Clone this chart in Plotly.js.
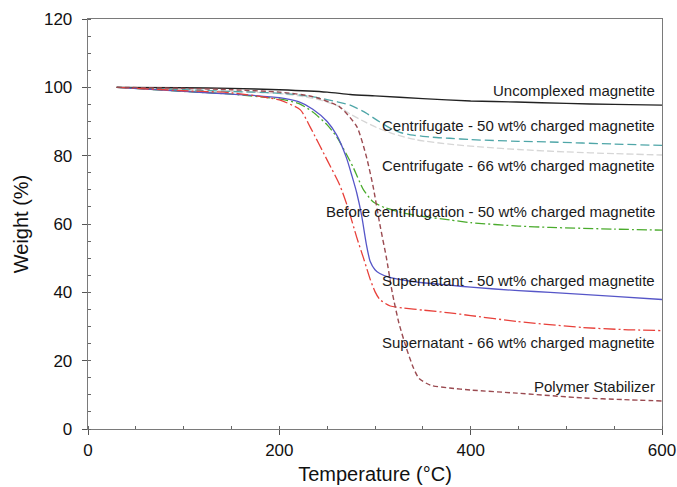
<!DOCTYPE html>
<html>
<head>
<meta charset="utf-8">
<script src="https://cdn.plot.ly/plotly-3.0.1.min.js"></script>
<style>html,body{margin:0;padding:0;background:#fff;}#chart{width:677px;height:487px;}</style>
</head>
<body>
<div id="chart"></div>
<script>
// Temperature (°C) and weight (%) for each sample
const xUncomplexed = [30, 100, 150, 200, 250, 274, 300, 350, 400, 448, 500, 550, 600];
const yUncomplexed = [100, 99.9, 99.7, 99.3, 98.6, 97.9, 97.5, 96.7, 96.0, 95.7, 95.3, 95.0, 94.8];

const xCentri50 = [30, 100, 150, 200, 220, 240, 260, 274, 290, 302, 315, 326, 340, 360, 378, 400, 450, 483, 550, 600];
const yCentri50 = [100, 99.3, 98.8, 98.3, 97.8, 97.0, 95.8, 94.8, 92.6, 90.4, 88.2, 86.8, 86.0, 85.4, 85.1, 84.7, 84.2, 84.0, 83.4, 83.0];

const xCentri66 = [30, 100, 150, 200, 220, 240, 260, 274, 290, 302, 320, 344, 380, 413, 450, 500, 550, 600];
const yCentri66 = [100, 99.3, 98.8, 98.2, 97.5, 96.5, 94.7, 92.2, 89.8, 88.2, 86.3, 84.6, 83.3, 82.5, 81.8, 81.1, 80.6, 80.2];

const xBefore50 = [30, 100, 150, 200, 220, 235, 250, 260, 270, 277, 288, 298, 310, 330, 350, 378, 400, 450, 483, 550, 600];
const yBefore50 = [100, 98.8, 98.0, 96.6, 95.3, 92.8, 89.0, 85.5, 80.5, 76.7, 70.0, 66.5, 64.8, 63.2, 62.2, 61.2, 60.4, 59.4, 59.0, 58.5, 58.2];

const xSuper50 = [30, 100, 150, 200, 220, 235, 250, 260, 270, 276, 281, 286, 291, 295, 300, 305, 316, 330, 350, 378, 400, 450, 483, 550, 600];
const ySuper50 = [100, 98.8, 98.0, 97.0, 95.8, 93.6, 90.0, 86.0, 79.5, 74.0, 69.0, 62.5, 54.0, 49.0, 46.6, 45.5, 44.3, 43.6, 42.8, 42.1, 41.5, 40.5, 40.0, 38.8, 37.9];

const xSuper66 = [30, 100, 150, 200, 222, 232, 250, 263, 272, 281, 288, 295, 300, 305, 316, 330, 350, 378, 400, 448, 517, 560, 600];
const ySuper66 = [100, 99.0, 98.4, 96.3, 93.4, 88.5, 78.7, 71.5, 64.5, 56.0, 50.0, 43.8, 40.2, 37.9, 36.0, 35.4, 34.8, 34.0, 33.2, 31.5, 29.7, 29.1, 28.8];

const xPolymer = [30, 100, 150, 200, 235, 263, 281, 291, 298, 305, 312, 318, 325, 333, 340, 346, 358, 378, 400, 448, 517, 560, 600];
const yPolymer = [100, 99.7, 99.3, 98.6, 97.3, 94.3, 88.5, 79.7, 71.0, 60.0, 50.0, 40.0, 31.0, 23.5, 18.0, 14.8, 12.8, 12.0, 11.4, 10.5, 9.1, 8.6, 8.2];

const labelTexts = [
  "Uncomplexed magnetite",
  "Centrifugate - 50 wt% charged magnetite",
  "Centrifugate - 66 wt% charged magnetite",
  "Before centrifugation - 50 wt% charged magnetite",
  "Supernatant - 50 wt% charged magnetite",
  "Supernatant - 66 wt% charged magnetite",
  "Polymer Stabilizer"
];
const labelY = [99.2, 88.7, 77.0, 63.8, 43.6, 25.3, 12.3];

const xTicks = [0, 200, 400, 600];
const yTicks = [0, 20, 40, 60, 80, 100, 120];

function tr(x, y, color, dash, width) {
  return {x: x, y: y, type: 'scatter', mode: 'lines',
    line: {color: color, dash: dash, width: width || 1.3, shape: 'spline', smoothing: 0.6},
    hoverinfo: 'skip', showlegend: false};
}

const data = [
  tr(xCentri66, yCentri66, '#d6d6d6', '7px,3px', 1.3),
  tr(xCentri50, yCentri50, '#4fa6a8', '9px,4px', 1.3),
  tr(xUncomplexed, yUncomplexed, '#222222', 'solid', 1.4),
  tr(xBefore50, yBefore50, '#4aab2c', '10px,3px,2px,3px', 1.3),
  tr(xSuper50, ySuper50, '#5656c8', 'solid', 1.3),
  tr(xSuper66, ySuper66, '#e8403a', '12px,3px,2px,3px', 1.3),
  tr(xPolymer, yPolymer, '#9a4a50', '5px,3px', 1.4)
];

const annotations = labelTexts.map((t, i) => ({
  x: 594.5, y: labelY[i], xref: 'x', yref: 'y', text: t,
  xanchor: 'right', yanchor: 'middle', showarrow: false,
  font: {family: 'Liberation Sans, Arial, sans-serif', size: 15, color: '#1a1a1a'}
}));

const layout = {
  width: 677, height: 487,
  margin: {l: 88, r: 15, t: 19, b: 58},
  paper_bgcolor: '#fff', plot_bgcolor: '#fff',
  font: {family: 'Liberation Sans, Arial, sans-serif', color: '#111'},
  xaxis: {
    range: [0, 600], tickvals: xTicks, ticktext: xTicks.map(String),
    showgrid: false, zeroline: false, showline: true, linecolor: '#7a7a7a', linewidth: 1.3, mirror: true,
    ticks: 'outside', ticklen: 5, tickcolor: '#555', tickwidth: 1,
    minor: {dtick: 50, tick0: 0, ticks: 'inside', ticklen: 3, tickcolor: '#666', showgrid: false},
    tickfont: {size: 17, color: '#111'},
    title: {text: 'Temperature (°C)', font: {size: 20, color: '#111'}, standoff: 8}
  },
  yaxis: {
    range: [0, 120], tickvals: yTicks, ticktext: yTicks.map(String),
    showgrid: false, zeroline: false, showline: true, linecolor: '#7a7a7a', linewidth: 1.3, mirror: true,
    ticks: 'outside', ticklen: 5, tickcolor: '#555', tickwidth: 1,
    minor: {dtick: 5, tick0: 0, ticks: 'inside', ticklen: 3, tickcolor: '#666', showgrid: false},
    tickfont: {size: 17, color: '#111'},
    ticklabelstandoff: 6,
    title: {text: 'Weight (%)', font: {size: 20, color: '#111'}, standoff: 10}
  },
  annotations: annotations
};

Plotly.newPlot('chart', data, layout, {displayModeBar: false, staticPlot: true});
</script>
</body>
</html>
